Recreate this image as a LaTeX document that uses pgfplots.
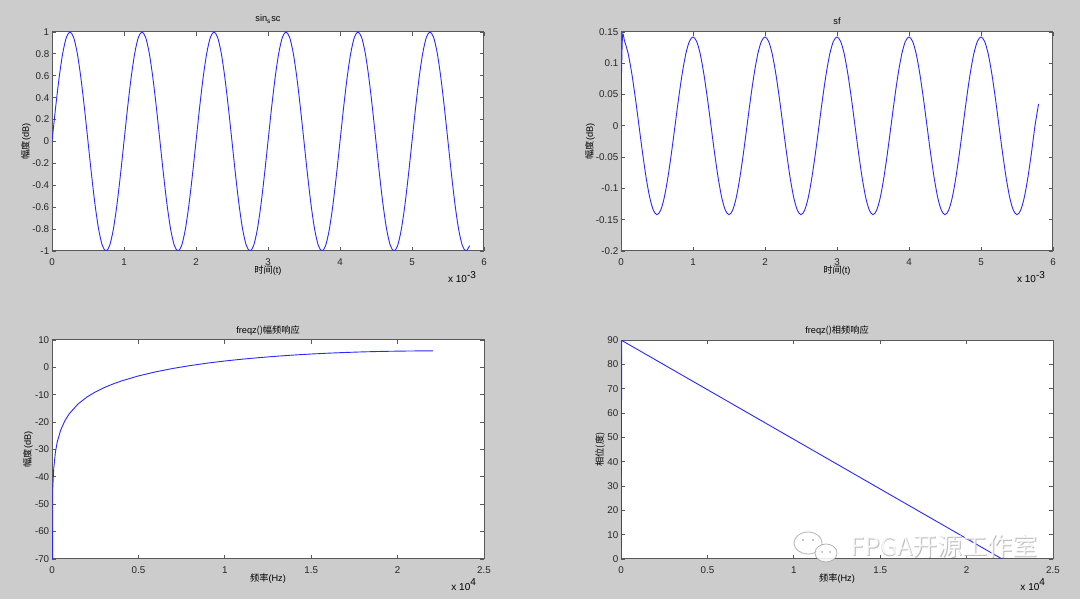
\documentclass[border=0pt]{standalone}
\usepackage{fontspec}
\setmainfont{Liberation Sans}
\newfontfamily\cjk{Noto Sans CJK SC}
\usepackage{pgfplots}
\pgfplotsset{compat=1.18}
\definecolor{bg}{RGB}{204,204,204}
\definecolor{mblue}{RGB}{40,40,255}
\pgfplotsset{
  mat/.style={
    scale only axis, width=216pt, height=109.5pt, anchor=south west,
    axis background/.style={fill=white},
    axis line style={black!65, line width=0.5pt},
    tick align=inside, tick pos=both, major tick length=2pt,
    every tick/.style={black!65, line width=0.4pt},
    tick label style={font=\fontsize{4.9}{6}\selectfont, black!85},
    /pgf/number format/assume math mode=true,
    xticklabel style={yshift=-0.3pt},
    yticklabel style={inner xsep=1.2pt},
    clip mode=individual,
    scaled ticks=false,
  }
}
\newcommand{\lab}{\fontsize{4.6}{5.5}\selectfont}
\begin{document}
\begin{tikzpicture}
\fill[bg] (0,0) rectangle (540pt,299.5pt);
\path[use as bounding box] (0,0) rectangle (540pt,299.5pt);

% ---------- top left ----------
\begin{axis}[mat, at={(26pt,174pt)},
  xmin=0, xmax=6, ymin=-1, ymax=1,
  xtick={0,1,2,3,4,5,6}, ytick={-1,-0.8,-0.6,-0.4,-0.2,0,0.2,0.4,0.6,0.8,1}]
\addplot[mblue, line width=0.45pt, smooth] coordinates {
(0,0)(0.05,0.309)(0.1,0.588)(0.15,0.809)(0.2,0.951)(0.25,1)(0.3,0.951)(0.35,0.809)(0.4,0.588)(0.45,0.309)(0.5,0)(0.55,-0.309)(0.6,-0.588)(0.65,-0.809)(0.7,-0.951)(0.75,-1)(0.8,-0.951)(0.85,-0.809)(0.9,-0.588)(0.95,-0.309)
(1,0)(1.05,0.309)(1.1,0.588)(1.15,0.809)(1.2,0.951)(1.25,1)(1.3,0.951)(1.35,0.809)(1.4,0.588)(1.45,0.309)(1.5,0)(1.55,-0.309)(1.6,-0.588)(1.65,-0.809)(1.7,-0.951)(1.75,-1)(1.8,-0.951)(1.85,-0.809)(1.9,-0.588)(1.95,-0.309)
(2,0)(2.05,0.309)(2.1,0.588)(2.15,0.809)(2.2,0.951)(2.25,1)(2.3,0.951)(2.35,0.809)(2.4,0.588)(2.45,0.309)(2.5,0)(2.55,-0.309)(2.6,-0.588)(2.65,-0.809)(2.7,-0.951)(2.75,-1)(2.8,-0.951)(2.85,-0.809)(2.9,-0.588)(2.95,-0.309)
(3,0)(3.05,0.309)(3.1,0.588)(3.15,0.809)(3.2,0.951)(3.25,1)(3.3,0.951)(3.35,0.809)(3.4,0.588)(3.45,0.309)(3.5,0)(3.55,-0.309)(3.6,-0.588)(3.65,-0.809)(3.7,-0.951)(3.75,-1)(3.8,-0.951)(3.85,-0.809)(3.9,-0.588)(3.95,-0.309)
(4,0)(4.05,0.309)(4.1,0.588)(4.15,0.809)(4.2,0.951)(4.25,1)(4.3,0.951)(4.35,0.809)(4.4,0.588)(4.45,0.309)(4.5,0)(4.55,-0.309)(4.6,-0.588)(4.65,-0.809)(4.7,-0.951)(4.75,-1)(4.8,-0.951)(4.85,-0.809)(4.9,-0.588)(4.95,-0.309)
(5,0)(5.05,0.309)(5.1,0.588)(5.15,0.809)(5.2,0.951)(5.25,1)(5.3,0.951)(5.35,0.809)(5.4,0.588)(5.45,0.309)(5.5,0)(5.55,-0.309)(5.6,-0.588)(5.65,-0.809)(5.7,-0.951)(5.75,-1)(5.8,-0.951)
};
\node[font=\lab] at (rel axis cs:0.5,1) [yshift=6.3pt] {sin\textsubscript{s}sc};
\node[font=\lab] at (rel axis cs:0.5,0) [yshift=-10pt] {{\cjk 时间}(t)};
\node[font=\fontsize{5}{6}\selectfont, anchor=east] at (rel axis cs:1,0) [yshift=-12.8pt] {x 10\textsuperscript{-3}};
\node[font=\lab, rotate=90] at (rel axis cs:0,0.5) [yshift=13pt] {{\cjk 幅度}(dB)};
\end{axis}

% ---------- top right ----------
\begin{axis}[mat, at={(310.5pt,174pt)},
  xmin=0, xmax=6, ymin=-0.2, ymax=0.15,
  xtick={0,1,2,3,4,5,6}, ytick={-0.2,-0.15,-0.1,-0.05,0,0.05,0.1,0.15},
  yticklabels={-0.2,-0.15,-0.1,-0.05,0,0.05,0.1,0.15}]
\addplot[mblue, line width=0.45pt, smooth] coordinates {
(0,0.037)(0.02,0.142)(0.05,0.135)(0.1,0.115)(0.15,0.0835)(0.2,0.0439)(0.25,0)(0.3,-0.0439)(0.35,-0.0835)(0.4,-0.115)(0.45,-0.135)(0.5,-0.142)(0.55,-0.135)(0.6,-0.115)(0.65,-0.0835)(0.7,-0.0439)(0.75,0)(0.8,0.0439)(0.85,0.0835)(0.9,0.115)(0.95,0.135)
(1,0.142)(1.05,0.135)(1.1,0.115)(1.15,0.0835)(1.2,0.0439)(1.25,0)(1.3,-0.0439)(1.35,-0.0835)(1.4,-0.115)(1.45,-0.135)(1.5,-0.142)(1.55,-0.135)(1.6,-0.115)(1.65,-0.0835)(1.7,-0.0439)(1.75,0)(1.8,0.0439)(1.85,0.0835)(1.9,0.115)(1.95,0.135)
(2,0.142)(2.05,0.135)(2.1,0.115)(2.15,0.0835)(2.2,0.0439)(2.25,0)(2.3,-0.0439)(2.35,-0.0835)(2.4,-0.115)(2.45,-0.135)(2.5,-0.142)(2.55,-0.135)(2.6,-0.115)(2.65,-0.0835)(2.7,-0.0439)(2.75,0)(2.8,0.0439)(2.85,0.0835)(2.9,0.115)(2.95,0.135)
(3,0.142)(3.05,0.135)(3.1,0.115)(3.15,0.0835)(3.2,0.0439)(3.25,0)(3.3,-0.0439)(3.35,-0.0835)(3.4,-0.115)(3.45,-0.135)(3.5,-0.142)(3.55,-0.135)(3.6,-0.115)(3.65,-0.0835)(3.7,-0.0439)(3.75,0)(3.8,0.0439)(3.85,0.0835)(3.9,0.115)(3.95,0.135)
(4,0.142)(4.05,0.135)(4.1,0.115)(4.15,0.0835)(4.2,0.0439)(4.25,0)(4.3,-0.0439)(4.35,-0.0835)(4.4,-0.115)(4.45,-0.135)(4.5,-0.142)(4.55,-0.135)(4.6,-0.115)(4.65,-0.0835)(4.7,-0.0439)(4.75,0)(4.8,0.0439)(4.85,0.0835)(4.9,0.115)(4.95,0.135)
(5,0.142)(5.05,0.135)(5.1,0.115)(5.15,0.0835)(5.2,0.0439)(5.25,0)(5.3,-0.0439)(5.35,-0.0835)(5.4,-0.115)(5.45,-0.135)(5.5,-0.142)(5.55,-0.135)(5.6,-0.115)(5.65,-0.0835)(5.7,-0.0439)(5.75,0)(5.8,0.035)
};
\node[font=\lab] at (rel axis cs:0.5,1) [yshift=5.5pt] {sf};
\node[font=\lab] at (rel axis cs:0.5,0) [yshift=-10pt] {{\cjk 时间}(t)};
\node[font=\fontsize{5}{6}\selectfont, anchor=east] at (rel axis cs:1,0) [yshift=-12.8pt] {x 10\textsuperscript{-3}};
\node[font=\lab, rotate=90] at (rel axis cs:0,0.5) [yshift=15.5pt] {{\cjk 幅度}(dB)};
\end{axis}

% ---------- bottom left ----------
\begin{axis}[mat, at={(26pt,20pt)},
  xmin=0, xmax=2.5, ymin=-70, ymax=10,
  xtick={0,0.5,1,1.5,2,2.5}, ytick={-70,-60,-50,-40,-30,-20,-10,0,10}]
\addplot[mblue, line width=0.45pt] coordinates {
(0,-300)(0.0043,-44.26)(0.01,-36.92)(0.02,-30.90)(0.03,-27.38)(0.05,-22.95)(0.075,-19.43)(0.1,-16.93)(0.15,-13.42)(0.2,-10.93)(0.25,-9.01)(0.3,-7.45)(0.35,-6.14)(0.4,-5.00)(0.5,-3.13)(0.6,-1.63)(0.7,-0.39)(0.8,0.66)(0.9,1.56)(1.0,2.33)(1.1,2.99)(1.2,3.57)(1.3,4.07)(1.4,4.51)(1.5,4.88)(1.6,5.19)(1.7,5.45)(1.8,5.66)(1.9,5.82)(2.0,5.93)(2.1,6.00)(2.205,6.02)
};
\node[font=\lab] at (rel axis cs:0.5,1) [yshift=4.5pt] {freqz{\cjk ()幅频响应}};
\node[font=\lab] at (rel axis cs:0.5,0) [yshift=-10pt] {{\cjk 频率}(Hz)};
\node[font=\fontsize{5}{6}\selectfont, anchor=east] at (rel axis cs:1,0) [yshift=-12.8pt] {x 10\textsuperscript{4}};
\node[font=\lab, rotate=90] at (rel axis cs:0,0.5) [yshift=12pt] {{\cjk 幅度}(dB)};
\end{axis}

% ---------- bottom right ----------
\begin{axis}[mat, at={(310.5pt,20pt)},
  xmin=0, xmax=2.5, ymin=0, ymax=90,
  xtick={0,0.5,1,1.5,2,2.5}, ytick={0,10,20,30,40,50,60,70,80,90}]
\addplot[mblue, line width=0.45pt] coordinates {
(0,0)(0.0043,89.82)(1.0,49.18)(2.0,8.37)(2.205,0.0)
};
\node[font=\lab] at (rel axis cs:0.5,1) [yshift=4.5pt] {freqz{\cjk ()相频响应}};
\node[font=\lab] at (rel axis cs:0.5,0) [yshift=-10pt] {{\cjk 频率}(Hz)};
\node[font=\fontsize{5}{6}\selectfont, anchor=east] at (rel axis cs:1,0) [yshift=-12.8pt] {x 10\textsuperscript{4}};
\node[font=\lab, rotate=90] at (rel axis cs:0,0.5) [yshift=10.5pt] {{\cjk 相位(度)}};
\end{axis}

% ---------- watermark ----------
\begin{scope}[opacity=0.85]
\fill[white, draw=black!35, line width=0.4pt] (404pt,28pt) ellipse (7pt and 5.5pt);
\fill[white, draw=black!35, line width=0.4pt] (413pt,23pt) ellipse (5.5pt and 4.5pt);
\fill[black!35] (401.5pt,29.5pt) circle (0.6pt) (406.5pt,29.5pt) circle (0.6pt);
\fill[black!35] (411pt,23.5pt) circle (0.5pt) (415pt,23.5pt) circle (0.5pt);
\node[text=black!30, font=\cjk\fontsize{12.5}{13}\selectfont] at (472.4pt,26.2pt) {FPGA开源工作室};
\node[text=white, font=\cjk\fontsize{12.5}{13}\selectfont] at (472pt,26.5pt) {FPGA开源工作室};
\end{scope}
\end{tikzpicture}
\end{document}
